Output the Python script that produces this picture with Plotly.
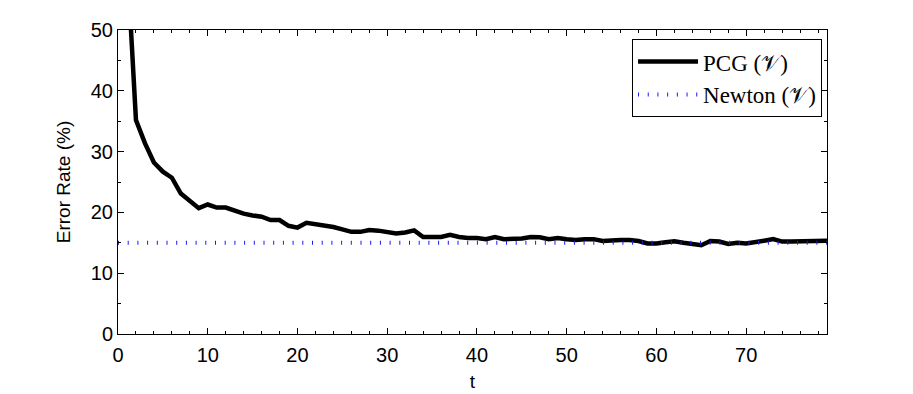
import plotly.graph_objects as go

# iteration index
t_values = list(range(1, 80))

# PCG error rate (%); first point lies above the axis top
pcg_error = [
    62.0, 35.2, 31.4, 28.2, 26.7, 25.7, 23.1, 22.0, 20.7, 21.3,
    20.8, 20.8, 20.3, 19.8, 19.5, 19.3, 18.75, 18.75, 17.8, 17.5,
    18.3, 18.1, 17.8, 17.6, 17.2, 16.8, 16.8, 17.1, 17.0, 16.7,
    16.55, 16.7, 17.05, 15.95, 15.95, 15.95, 16.3, 15.95, 15.8, 15.8,
    15.6, 15.95, 15.6, 15.6, 15.7, 15.95, 15.9, 15.6, 15.8, 15.6,
    15.45, 15.6, 15.6, 15.3, 15.45, 15.45, 15.45, 15.3, 14.9, 14.9,
    15.1, 15.25, 15.0, 14.8, 14.6, 15.3, 15.2, 14.8, 15.0, 14.9,
    15.2, 15.35, 15.6, 15.2, 15.2, 15.2, 15.2, 15.35, 15.35,
]

# Newton reference error rate (%), constant over the whole range
newton_t = [0, 79]
newton_error = [15.0, 15.0]

SANS = "Liberation Sans, Arial, sans-serif"
SERIF = "Liberation Serif, Times New Roman, serif"

fig = go.Figure()
fig.add_scatter(
    x=t_values,
    y=pcg_error,
    mode="lines",
    name="PCG (\U0001D4B1)",
    line={"color": "black", "width": 4.5},
)
fig.add_scatter(
    x=newton_t,
    y=newton_error,
    mode="lines",
    name="Newton (\U0001D4B1)",
    line={"color": "#1a1aff", "width": 4, "dash": "1px,8.7px"},
)

axis_common = dict(
    showgrid=False,
    zeroline=False,
    showline=True,
    linecolor="black",
    linewidth=1,
    mirror="allticks",
    ticks="inside",
    ticklen=6,
    tickwidth=1,
    tickcolor="black",
    tickfont={"family": SANS, "size": 20, "color": "black"},
    title_font={"family": SANS, "size": 19, "color": "black"},
)

fig.update_xaxes(
    **axis_common,
    range=[0, 79],
    dtick=10,
    tick0=0,
    minor={"dtick": 2, "ticks": "inside", "ticklen": 3, "tickcolor": "black"},
    ticklabelstandoff=3,
    title_text="t",
    title_standoff=9,
)
fig.update_yaxes(
    **axis_common,
    range=[0, 50],
    dtick=10,
    tick0=0,
    minor={"dtick": 5, "ticks": "inside", "ticklen": 3, "tickcolor": "black"},
    title_text="Error Rate (%)",
    title_standoff=15,
)

# the page body adds an 8px offset, so margins are shifted to compensate
fig.update_layout(
    width=913,
    height=394,
    margin={"l": 110, "r": 94, "t": 22, "b": 68},
    paper_bgcolor="white",
    plot_bgcolor="white",
    showlegend=True,
    legend={
        "x": 0.993,
        "y": 0.97,
        "xanchor": "right",
        "yanchor": "top",
        "bgcolor": "white",
        "bordercolor": "black",
        "borderwidth": 1,
        "font": {"family": SERIF, "size": 23, "color": "black"},
        "itemwidth": 60,
        "tracegroupgap": 0,
    },
)

fig.write_html("out.html")
